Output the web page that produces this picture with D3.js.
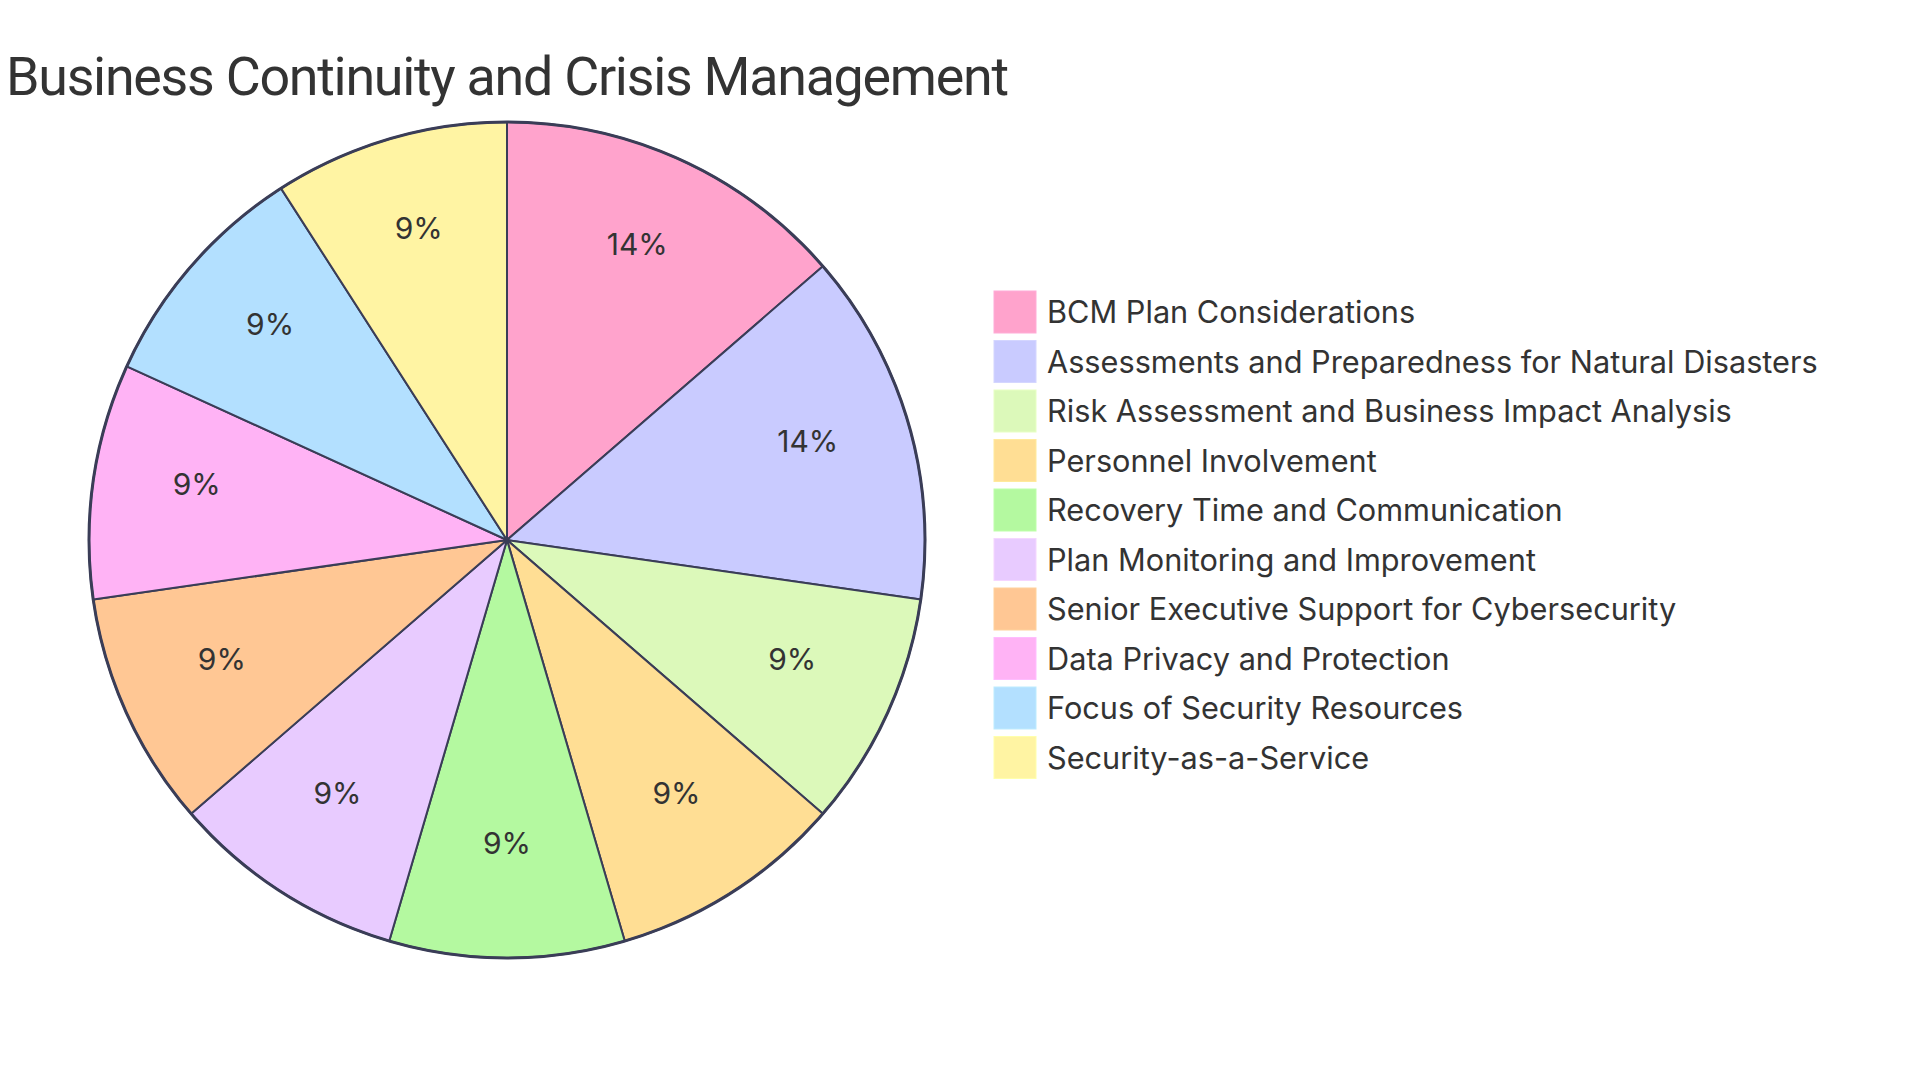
<!DOCTYPE html>
<html>
<head>
<meta charset="utf-8">
<script src="https://cdn.jsdelivr.net/npm/d3@7"></script>
<style>
  html, body { margin: 0; padding: 0; background: #ffffff; }
  svg { display: block; }
</style>
</head>
<body>
<svg id="chart" width="1920" height="1080"></svg>
<script>
const chartTitle = "Business Continuity and Crisis Management";
const categories = [
  "BCM Plan Considerations",
  "Assessments and Preparedness for Natural Disasters",
  "Risk Assessment and Business Impact Analysis",
  "Personnel Involvement",
  "Recovery Time and Communication",
  "Plan Monitoring and Improvement",
  "Senior Executive Support for Cybersecurity",
  "Data Privacy and Protection",
  "Focus of Security Resources",
  "Security-as-a-Service"
];
const values = [3, 3, 2, 2, 2, 2, 2, 2, 2, 2];
const colors = [
  "#FFA3CC", "#C9CBFF", "#DCF9BA", "#FFDE94", "#B4F9A0",
  "#E8CBFF", "#FFC794", "#FFB3F5", "#B3E0FF", "#FFF4A3"
];

const FONT = "Inter, 'Noto Sans', sans-serif";
const TITLE_FONT = "Roboto, Inter, sans-serif";
const TEXT = "#333333";
const STROKE = "#3a3d57";

const svg = d3.select("#chart");
const cx = 507, cy = 540, R = 418;

const data = categories.map((c, i) => ({ name: c, value: values[i], color: colors[i] }));
const total = d3.sum(values);

const pie = d3.pie().value(d => d.value).sort(null);
const arcs = pie(data);
const arc = d3.arc().innerRadius(0).outerRadius(R);
const labelArc = d3.arc().innerRadius(R * 0.75).outerRadius(R * 0.75);

const g = svg.append("g").attr("transform", `translate(${cx},${cy})`);

g.selectAll("path.slice")
  .data(arcs)
  .join("path")
  .attr("class", "slice")
  .attr("d", arc)
  .attr("fill", d => d.data.color)
  .attr("stroke", STROKE)
  .attr("stroke-width", 2)
  .attr("stroke-linejoin", "round");

g.append("circle")
  .attr("r", R)
  .attr("fill", "none")
  .attr("stroke", STROKE)
  .attr("stroke-width", 3);

const pct = d3.format(".0f");
g.selectAll("text.pieLabel")
  .data(arcs)
  .join("text")
  .attr("class", "pieLabel")
  .attr("transform", d => `translate(${labelArc.centroid(d)})`)
  .attr("text-anchor", "middle")
  .attr("font-family", FONT)
  .attr("font-size", 30)
  .attr("fill", TEXT)
  .text(d => pct(d.data.value / total * 100) + "%");

// Title
const title = svg.append("text")
  .attr("x", 6)
  .attr("y", 95)
  .attr("font-family", TITLE_FONT)
  .attr("font-size", 58)
  .attr("fill", TEXT)
  .text(chartTitle);
fitTitle(title, 1003);

// Legend
const legendX = 994, legendY = 291, rowH = 49.5, box = 42;
const lg = svg.append("g");
const rows = lg.selectAll("g.row")
  .data(data)
  .join("g")
  .attr("class", "row")
  .attr("transform", (d, i) => `translate(${legendX},${legendY + i * rowH})`);

rows.append("rect")
  .attr("width", box)
  .attr("height", box)
  .attr("fill", d => d.color)
  .attr("stroke", d => d3.color(d.color).brighter(0.15))
  .attr("stroke-width", 1);

const ltexts = rows.append("text")
  .attr("x", 53)
  .attr("y", 32)
  .attr("font-family", FONT)
  .attr("font-size", 28)
  .attr("fill", TEXT)
  .text(d => d.name);

// size legend font from the longest label's measured width
const longest = ltexts.filter(d => d.name === categories[1]).node();
const natural = longest.getComputedTextLength();
const lfs = 28 * 771 / natural;
ltexts.attr("font-size", lfs);

function fitTitle(sel, target) {
  const w = sel.node().getComputedTextLength();
  const base = +sel.attr("font-size");
  if (Math.abs(w - target) / target > 0.06) {
    // keep the glyphs from distorting too far: resize first, then adjust spacing
    const fs = base * Math.pow(target / w, 0.6);
    sel.attr("font-size", fs);
  }
  sel.attr("textLength", target).attr("lengthAdjust", "spacing");
}
</script>
</body>
</html>
